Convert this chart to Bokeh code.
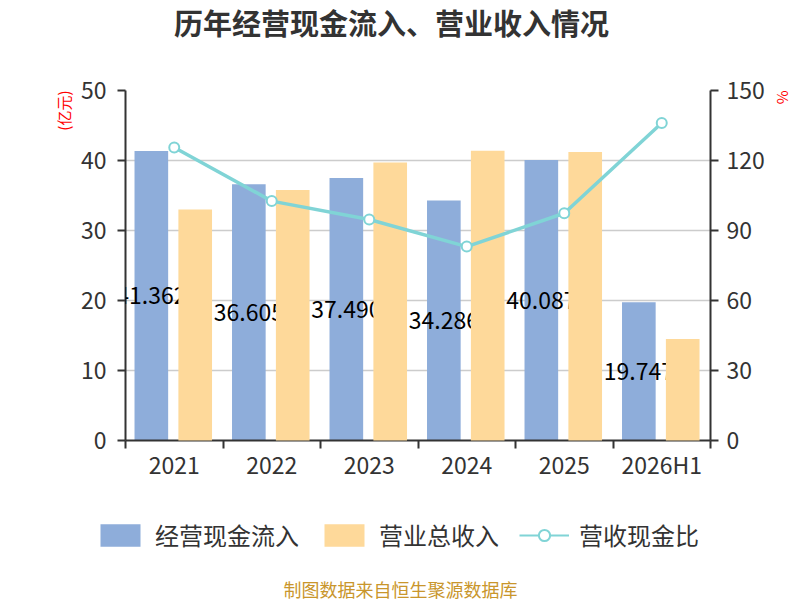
import numpy as np
from bokeh.plotting import figure
from bokeh.layouts import column
from bokeh.models import (Range1d, LinearAxis, FixedTicker, ColumnDataSource, LabelSet,
                          Label, Legend, LegendItem, Grid, Title)
from bokeh.embed import file_html
from bokeh.resources import INLINE
from bokeh.core.properties import value

categories = ["2021", "2022", "2023", "2024", "2025", "2026H1"]
cash_inflow = [41.362, 36.605, 37.490, 34.286, 40.087, 19.747]   # 经营现金流入 (亿元)
revenue = [33.0, 35.8, 39.7, 41.4, 41.2, 14.5]                   # 营业总收入 (亿元)
ratio = [125.6, 102.6, 94.7, 83.1, 97.4, 136.1]                  # 营收现金比 (%)
left_ticks = [0, 10, 20, 30, 40, 50]
right_ticks = [0, 30, 60, 90, 120, 150]

FONT = "Noto Sans CJK SC"
BLUE = "#8EADDA"
ORANGE = "#FED99A"
TEAL = "#80D4D6"
DARK = "#333333"

n = len(categories)
xc = np.arange(n) + 0.5

src = ColumnDataSource(dict(
    x_blue=xc - 0.235, x_orange=xc + 0.215, x=xc,
    cash=cash_inflow, rev=revenue, ratio=ratio,
    half=[v / 2 for v in cash_inflow],
    lab=[f"{v:.3f}" for v in cash_inflow],
))


def blank_fig(h):
    f = figure(width=800, height=h, x_range=Range1d(0, 800), y_range=Range1d(0, h),
               output_backend="svg", toolbar_location=None, min_border=0,
               x_axis_type=None, y_axis_type=None, frame_align=False)
    f.outline_line_color = None
    f.background_fill_color = "white"
    f.border_fill_color = "white"
    return f


# ---- title strip ----
top = blank_fig(50)
top.add_layout(Label(x=391, y=29, text="历年经营现金流入、营业收入情况", text_align="center",
                     text_baseline="middle", text_font_size="29px", text_font_style="bold",
                     text_color=DARK, text_font=FONT))

# ---- main chart ----
p = figure(width=800, height=450, x_range=Range1d(0, n), y_range=Range1d(0, 50),
           output_backend="svg", toolbar_location=None, frame_align=False,
           min_border_left=125, min_border_right=89, min_border_top=40, min_border_bottom=60,
           x_axis_type=None, y_axis_type=None)
p.outline_line_color = None
p.background_fill_color = "white"
p.border_fill_color = "white"
p.extra_y_ranges = {"pct": Range1d(0, 150)}

p.add_layout(Grid(dimension=1, ticker=FixedTicker(ticks=left_ticks),
                  grid_line_color="#cccccc", grid_line_width=1.3))


def style_axis(ax):
    ax.axis_line_color = DARK
    ax.axis_line_width = 2
    ax.major_tick_line_color = DARK
    ax.major_tick_line_width = 2
    ax.major_tick_in = 0
    ax.major_tick_out = 8
    ax.major_label_text_font = FONT
    ax.major_label_text_font_size = "23px"
    ax.major_label_text_color = DARK
    ax.minor_tick_line_color = None


yl = LinearAxis(ticker=FixedTicker(ticks=left_ticks))
style_axis(yl)
yl.major_label_standoff = 11
p.add_layout(yl, "left")

yr = LinearAxis(y_range_name="pct", ticker=FixedTicker(ticks=right_ticks))
style_axis(yr)
yr.major_label_standoff = 8
p.add_layout(yr, "right")

xa = LinearAxis(ticker=FixedTicker(ticks=list(xc), minor_ticks=list(range(n + 1))),
                major_label_overrides={float(x): c for x, c in zip(xc, categories)})
style_axis(xa)
xa.major_tick_line_color = None
xa.major_tick_out = 0
xa.minor_tick_line_color = DARK
xa.minor_tick_line_width = 2
xa.minor_tick_in = 0
xa.minor_tick_out = 8
xa.major_label_standoff = -2
p.add_layout(xa, "below")

rb = p.vbar(x="x_blue", top="cash", width=0.345, source=src, fill_color=BLUE, line_color=None)
p.add_layout(LabelSet(x="x_blue", y="half", text="lab", source=src, text_align="center",
                      text_baseline="middle", text_font_size=value("23px"), text_color="black",
                      text_font=value(FONT)))
ro = p.vbar(x="x_orange", top="rev", width=0.345, source=src, fill_color=ORANGE,
            line_color=None, level="overlay")
rl = p.line(x="x", y="ratio", y_range_name="pct", source=src, line_width=3.5,
            line_color=TEAL, level="overlay")
rs = p.scatter(x="x", y="ratio", y_range_name="pct", source=src, size=10, fill_color="white",
               line_color=TEAL, line_width=2, level="overlay")

p.add_layout(Title(text="(亿元)", align="right", standoff=7, text_font_size="15px",
                   text_font_style="normal", text_color="red", text_font=FONT), "left")
p.add_layout(Title(text="%", align="left", standoff=10, text_font_size="15px",
                   text_font_style="normal", text_color="red", text_font=FONT), "right")

# ---- legend + source strip ----
bot = blank_fig(100)
kb = bot.vbar(x="x_blue", top="cash", width=0.345, source=src, fill_color=BLUE,
              line_color=None, visible=False)
ko = bot.vbar(x="x_orange", top="rev", width=0.345, source=src, fill_color=ORANGE,
              line_color=None, visible=False)
kl = bot.line(x="x", y="ratio", source=src, line_width=2, line_color=TEAL, visible=False)
ks = bot.scatter(x="x", y="ratio", source=src, size=10, fill_color="white",
                 line_color=TEAL, line_width=2, visible=False)
legend = Legend(items=[LegendItem(label="经营现金流入", renderers=[kb]),
                       LegendItem(label="营业总收入", renderers=[ko]),
                       LegendItem(label="营收现金比", renderers=[kl, ks])],
                orientation="horizontal", location=(95, 48),
                glyph_width=50, glyph_height=28, label_text_font_size="24px",
                label_text_font=FONT, label_text_color=DARK, label_standoff=10,
                spacing=20, padding=0, margin=0, border_line_color=None,
                background_fill_alpha=0, inactive_fill_alpha=0)
bot.add_layout(legend)
bot.add_layout(Label(x=400, y=12, text="制图数据来自恒生聚源数据库", text_align="center",
                     text_baseline="middle", text_font_size="18px",
                     text_color="#C9962C", text_font=FONT))

layout = column(top, p, bot, spacing=0)
open("out.html", "w").write(file_html(layout, INLINE))
